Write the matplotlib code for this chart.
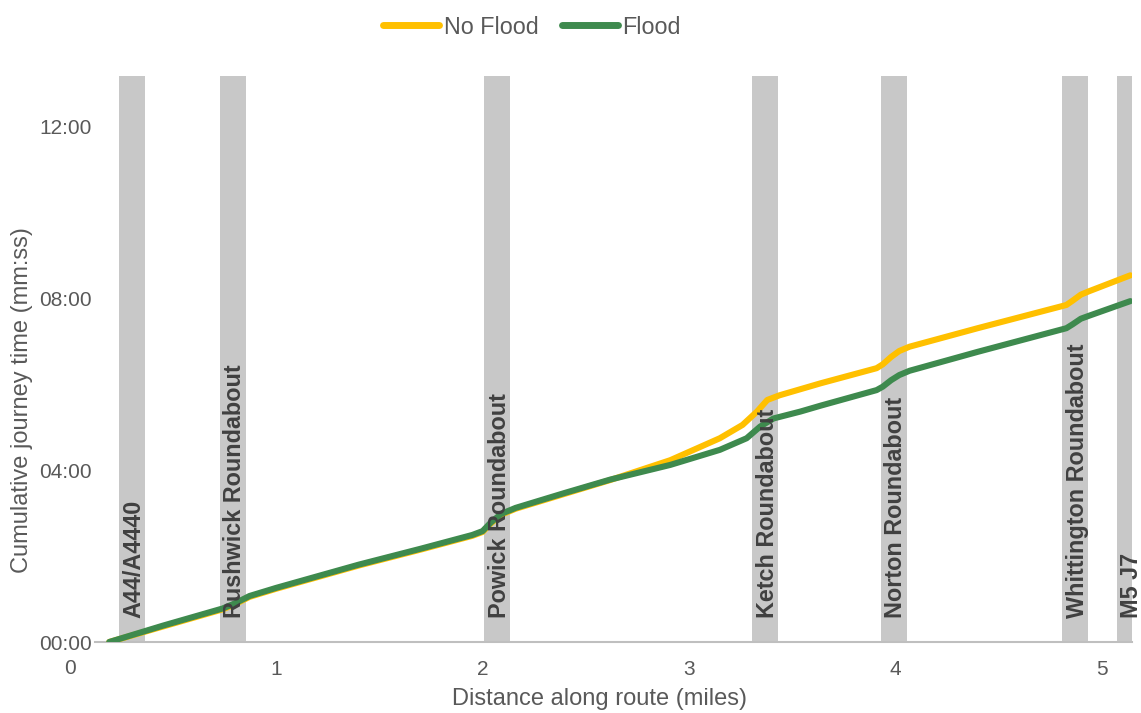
import matplotlib
matplotlib.use("Agg")
import matplotlib.pyplot as plt
from matplotlib.ticker import FuncFormatter, FixedLocator

plt.rcParams["font.family"] = ["Liberation Sans", "DejaVu Sans"]

# distance along route (miles) vs cumulative time (minutes)
no_flood_miles = [0.19, 0.45, 0.74, 0.80, 0.87, 1.00, 1.40, 1.70, 1.95, 2.00,
                  2.04, 2.09, 2.16, 2.40, 2.62, 2.91, 3.15, 3.26, 3.33, 3.38,
                  3.44, 3.54, 3.64, 3.91, 3.94, 3.98, 4.02, 4.07, 4.40, 4.83,
                  4.86, 4.90, 4.94, 5.14]
no_flood_mins = [0.00, 0.36, 0.76, 0.88, 1.05, 1.24, 1.78, 2.15, 2.47, 2.56,
                 2.76, 2.96, 3.10, 3.45, 3.77, 4.23, 4.74, 5.05, 5.36, 5.63,
                 5.74, 5.88, 6.02, 6.37, 6.46, 6.63, 6.77, 6.87, 7.30, 7.84,
                 7.94, 8.08, 8.16, 8.53]

flood_miles = [0.19, 0.45, 0.74, 0.80, 0.87, 1.00, 1.40, 1.70, 1.95, 2.00,
               2.04, 2.09, 2.16, 2.40, 2.62, 2.91, 3.15, 3.28, 3.345, 3.41,
               3.54, 3.64, 3.91, 3.94, 3.98, 4.02, 4.07, 4.40, 4.83, 4.86,
               4.90, 4.94, 5.14]
flood_mins = [0.00, 0.38, 0.78, 0.90, 1.07, 1.26, 1.80, 2.17, 2.49, 2.58,
              2.78, 2.98, 3.12, 3.47, 3.78, 4.12, 4.47, 4.74, 5.01, 5.20,
              5.36, 5.50, 5.86, 5.94, 6.09, 6.21, 6.31, 6.75, 7.30, 7.39,
              7.52, 7.59, 7.93]

junctions = ["A44/A4440", "Rushwick Roundabout", "Powick Roundabout",
             "Ketch Roundabout", "Norton Roundabout", "Whittington Roundabout",
             "M5 J7"]
junction_miles = [0.300, 0.788, 2.071, 3.371, 3.993, 4.872, 5.136]

YELLOW = "#FFC000"
GREEN = "#3E8A4E"
BAR_GREY = "#C8C8C8"
TEXT_GREY = "#595959"

fig = plt.figure(figsize=(11.41, 7.13), dpi=100)
ax = fig.add_axes([95 / 1141, 71 / 713, (1132 - 95) / 1141, (642 - 76) / 713])

bar_w = 0.126
for name, m in zip(junctions, junction_miles):
    ax.axvspan(m - bar_w / 2, m + bar_w / 2, color=BAR_GREY, lw=0, zorder=1)

ax.plot(no_flood_miles, [v * 60 for v in no_flood_mins], color=YELLOW, lw=4.4,
        solid_capstyle="round", solid_joinstyle="round", label="No Flood", zorder=3)
ax.plot(flood_miles, [v * 60 for v in flood_mins], color=GREEN, lw=4.4,
        solid_capstyle="round", solid_joinstyle="round", label="Flood", zorder=4)

for name, m in zip(junctions, junction_miles):
    ax.text(m + 0.01, 33, name, rotation=90, ha="center", va="bottom", fontsize=16.8,
            fontweight="bold", color="#404040", zorder=5, clip_on=False)

ax.set_xlim(0.121, 5.148)
ax.set_ylim(0, 790)

ax.xaxis.set_major_locator(FixedLocator([1, 2, 3, 4, 5]))
ax.yaxis.set_major_locator(FixedLocator([0, 240, 480, 720]))
ax.yaxis.set_major_formatter(FuncFormatter(lambda v, p: f"{int(v // 60):02d}:{int(v % 60):02d}"))
ax.tick_params(axis="both", length=0, labelsize=15, labelcolor=TEXT_GREY)
ax.tick_params(axis="x", pad=13)
ax.tick_params(axis="y", pad=2)
# the "0" label sits left of the plot area
ax.text(0, -0.046, "0", transform=ax.get_xaxis_transform(), ha="center", va="center",
        fontsize=15, color=TEXT_GREY, clip_on=False)

for s in ["top", "right", "left"]:
    ax.spines[s].set_visible(False)
ax.spines["bottom"].set_color("#BFBFBF")
ax.spines["bottom"].set_linewidth(1.5)
ax.spines["bottom"].set_zorder(2)

fig.text(600 / 1141, 1 - 699 / 713, "Distance along route (miles)", ha="center", va="center",
         fontsize=17, color=TEXT_GREY)
fig.text(22 / 1141, 1 - 400 / 713, "Cumulative journey time (mm:ss)", ha="center", va="center",
         rotation=90, fontsize=17, color=TEXT_GREY)

leg = fig.legend(loc="center", bbox_to_anchor=(532 / 1141, 1 - 27 / 713), ncol=2,
                 frameon=False, fontsize=16.8, handlelength=2.4, handletextpad=0.2,
                 columnspacing=1.0)
for t in leg.get_texts():
    t.set_color(TEXT_GREY)
for h in leg.get_lines():
    h.set_linewidth(5)

fig.savefig("out.png", dpi=100)
